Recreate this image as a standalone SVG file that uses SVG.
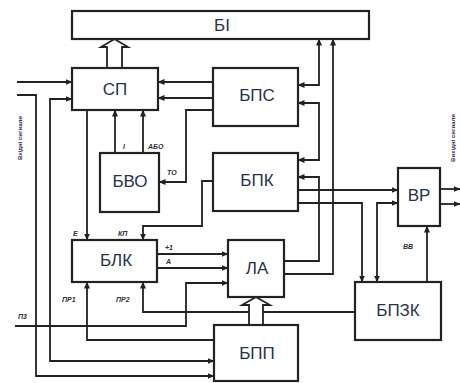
<svg xmlns="http://www.w3.org/2000/svg" width="460" height="383" viewBox="0 0 460 383">
<style>
.box{fill:#fff;stroke:#222;stroke-width:2.2}
.ln{fill:none;stroke:#222;stroke-width:1.8}
.ba{fill:#fff;stroke:#222;stroke-width:1.8;stroke-linejoin:miter}
.t{font-family:"Liberation Sans",Arial,sans-serif;font-size:17px;fill:#26334a;text-anchor:middle;dominant-baseline:central}
.s{font-family:"Liberation Sans",Arial,sans-serif;font-size:7px;font-weight:bold;font-style:italic;fill:#2b2f3a}
.v{font-family:"Liberation Sans",Arial,sans-serif;font-size:6px;font-weight:bold;fill:#2b2f5a;text-anchor:middle}
</style>
<defs>
<marker id="ar" markerWidth="7" markerHeight="6" refX="6.5" refY="3" orient="auto-start-reverse" markerUnits="userSpaceOnUse">
<path d="M0,0 L7,3 L0,6 Z" fill="#222"/>
</marker>
</defs>
<rect width="460" height="383" fill="#fff"/>
<g id="connectors">
<path class="ln" d="M17,82 H72" marker-end="url(#ar)"/>
<path class="ln" d="M17,95 H36 V376 H214" marker-end="url(#ar)"/>
<path class="ln" d="M214,361 H50 V99 H72" marker-start="url(#ar)" marker-end="url(#ar)"/>
<path class="ln" d="M213,82 H158" marker-end="url(#ar)"/>
<path class="ln" d="M213,98 H158" marker-end="url(#ar)"/>
<path class="ln" d="M87,110 V240" marker-end="url(#ar)"/>
<path class="ln" d="M115,153 V110" marker-end="url(#ar)"/>
<path class="ln" d="M143,153 V110" marker-end="url(#ar)"/>
<path class="ln" d="M213,110 H186 V182 H159" marker-end="url(#ar)"/>
<path class="ln" d="M213,181 H202 V226 H143 V240" marker-end="url(#ar)"/>
<path class="ln" d="M157,254 H228" marker-end="url(#ar)"/>
<path class="ln" d="M157,268 H228" marker-end="url(#ar)"/>
<path class="ln" d="M15,326 H186 V283 H228" marker-end="url(#ar)"/>
<path class="ln" d="M214,340 H87 V282" marker-end="url(#ar)"/>
<path class="ln" d="M355,312 H143 V282" marker-end="url(#ar)"/>
<path class="ln" d="M298,85 H319 V39" marker-start="url(#ar)" marker-end="url(#ar)"/>
<path class="ln" d="M298,103 H319 V160 H298" marker-start="url(#ar)" marker-end="url(#ar)"/>
<path class="ln" d="M284,261 H319 V177 H298" marker-end="url(#ar)"/>
<path class="ln" d="M284,274 H333 V39" marker-end="url(#ar)"/>
<path class="ln" d="M298,190 H398" marker-end="url(#ar)"/>
<path class="ln" d="M298,203 H362 V282" marker-end="url(#ar)"/>
<path class="ln" d="M377,282 V203 H398" marker-start="url(#ar)" marker-end="url(#ar)"/>
<path class="ln" d="M427,282 V226" marker-end="url(#ar)"/>
<path class="ln" d="M440,189 H460" marker-end="url(#ar)"/>
<path class="ln" d="M440,204 H460" marker-end="url(#ar)"/>
<polygon class="ba" points="107,68 107,47 101,47 114.5,39 128,47 122,47 122,68"/>
<polygon class="ba" points="249,325 249,305 242,305 256,297 270,305 263,305 263,325"/>
</g>
<g id="BI"><rect class="box" x="72" y="11" width="297" height="28"/><text class="t" x="222" y="25">БІ</text></g>
<g id="SP"><rect class="box" x="72" y="68" width="86" height="42"/><text class="t" x="115" y="89">СП</text></g>
<g id="BPS"><rect class="box" x="213" y="68" width="85" height="58"/><text class="t" x="257" y="95">БПС</text></g>
<g id="BVO"><rect class="box" x="100" y="153" width="59" height="59"/><text class="t" x="130" y="181">БВО</text></g>
<g id="BPK"><rect class="box" x="213" y="153" width="85" height="58"/><text class="t" x="257" y="180">БПК</text></g>
<g id="BLK"><rect class="box" x="72" y="240" width="85" height="42"/><text class="t" x="116" y="260">БЛК</text></g>
<g id="LA"><rect class="box" x="228" y="240" width="56" height="57"/><text class="t" x="257" y="268">ЛА</text></g>
<g id="BPP"><rect class="box" x="214" y="325" width="84" height="56"/><text class="t" x="257" y="353">БПП</text></g>
<g id="BPZK"><rect class="box" x="355" y="282" width="86" height="58"/><text class="t" x="398" y="310">БПЗК</text></g>
<g id="VR"><rect class="box" x="398" y="168" width="42" height="58"/><text class="t" x="419" y="195">ВР</text></g>
<g id="labels">
<text class="s" x="123" y="149">І</text>
<text class="s" x="148" y="149">АБО</text>
<text class="s" x="167" y="175">ТО</text>
<text class="s" x="73" y="236">Е</text>
<text class="s" x="118" y="236">КП</text>
<text class="s" x="165" y="250">+1</text>
<text class="s" x="166" y="264">А</text>
<text class="s" x="62" y="302">ПР1</text>
<text class="s" x="116" y="302">ПР2</text>
<text class="s" x="18" y="319">П3</text>
<text class="s" x="403" y="249">ВВ</text>
<text class="v" transform="translate(22,138) rotate(-90)">Вхідні сигнали</text>
<text class="v" transform="translate(455,138) rotate(-90)">Вихідні сигнали</text>
</g>
</svg>
